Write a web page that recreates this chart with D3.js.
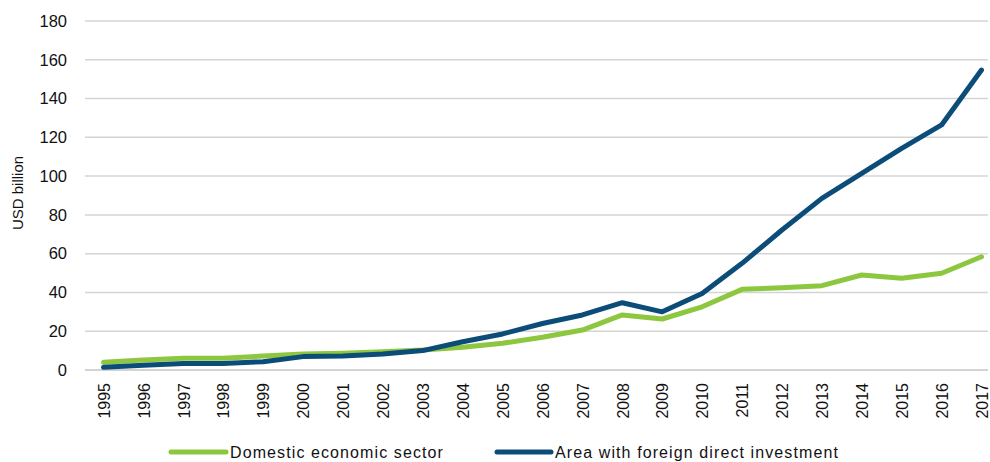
<!DOCTYPE html>
<html>
<head>
<meta charset="utf-8">
<script src="https://cdn.jsdelivr.net/npm/d3@7"></script>
<style>
  html, body { margin: 0; padding: 0; background: #fff; }
  svg { display: block; font-family: "Liberation Sans", Arial, sans-serif; }
</style>
</head>
<body>
<svg id="chart" width="990" height="462"></svg>
<script>
const years = ["1995","1996","1997","1998","1999","2000","2001","2002","2003","2004","2005","2006",
               "2007","2008","2009","2010","2011","2012","2013","2014","2015","2016","2017"];
const domestic = [4.0, 5.1, 6.0, 6.1, 7.2, 8.2, 8.6, 9.4, 10.3, 11.7, 13.8, 16.9,
                  20.6, 28.4, 26.3, 32.6, 41.6, 42.4, 43.5, 49.0, 47.3, 49.9, 58.4];
const fdi = [1.4, 2.4, 3.4, 3.4, 4.3, 6.9, 7.2, 8.2, 10.0, 14.6, 18.6, 24.0,
             28.4, 34.7, 30.0, 39.5, 55.0, 72.2, 88.5, 101.4, 114.3, 126.4, 154.7];
const yTicks = [0, 20, 40, 60, 80, 100, 120, 140, 160, 180];
const seriesNames = ["Domestic economic sector", "Area with foreign direct investment"];
const seriesColors = ["#8dc63f", "#0b4d78"];

const svg = d3.select("#chart");
const plotLeft = 85, plotRight = 988, plotTop = 21, plotBottom = 370;

const x = d3.scalePoint().domain(years).range([103.5, 981.5]);
const y = d3.scaleLinear().domain([0, 180]).range([plotBottom, plotTop]);

// gridlines
svg.append("g").selectAll("line").data(yTicks).join("line")
  .attr("x1", plotLeft).attr("x2", plotRight)
  .attr("y1", d => y(d)).attr("y2", d => y(d))
  .attr("stroke", d => d === 0 ? "#c4c4c4" : "#d4d4d4")
  .attr("stroke-width", 1.5);

// y axis labels
const yAxis = d3.axisLeft(y).tickValues(yTicks).tickSize(0).tickPadding(0);
const yg = svg.append("g").attr("transform", "translate(67,0)").call(yAxis);
yg.select(".domain").remove();
yg.selectAll("text").attr("font-size", 16.5).attr("fill", "#111")
  .attr("font-family", "'Liberation Sans', Arial, sans-serif");

// x axis labels
const xAxis = d3.axisBottom(x).tickSize(0);
const xg = svg.append("g").attr("transform", `translate(0,${plotBottom})`).call(xAxis);
xg.select(".domain").remove();
xg.selectAll("text")
  .attr("font-size", 16).attr("fill", "#111")
  .attr("font-family", "'Liberation Sans', Arial, sans-serif")
  .attr("text-anchor", "end")
  .attr("transform", "rotate(-90)")
  .attr("x", -13).attr("y", 0).attr("dy", "0.36em");

// y title
svg.append("text")
  .attr("transform", "translate(18,193) rotate(-90)")
  .attr("text-anchor", "middle").attr("dy", "0.35em")
  .attr("font-size", 15).attr("fill", "#111")
  .text("USD billion");

// lines
const line = d3.line().x((d, i) => x(years[i])).y(d => y(d));
[domestic, fdi].forEach((vals, k) => {
  svg.append("path").datum(vals)
    .attr("d", line)
    .attr("fill", "none")
    .attr("stroke", seriesColors[k])
    .attr("stroke-width", 5)
    .attr("stroke-linejoin", "round")
    .attr("stroke-linecap", "round");
});

// legend
const legendItems = [
  { name: seriesNames[0], color: seriesColors[0], x1: 171, x2: 226, tx: 230 },
  { name: seriesNames[1], color: seriesColors[1], x1: 497, x2: 551, tx: 555 }
];
const lg = svg.append("g");
legendItems.forEach(it => {
  lg.append("line").attr("x1", it.x1).attr("x2", it.x2).attr("y1", 452).attr("y2", 452)
    .attr("stroke", it.color).attr("stroke-width", 5).attr("stroke-linecap", "round");
  lg.append("text").attr("x", it.tx).attr("y", 452).attr("dy", "0.35em")
    .attr("font-size", 16).attr("letter-spacing", "1.1px").attr("fill", "#111")
    .text(it.name);
});
</script>
</body>
</html>
